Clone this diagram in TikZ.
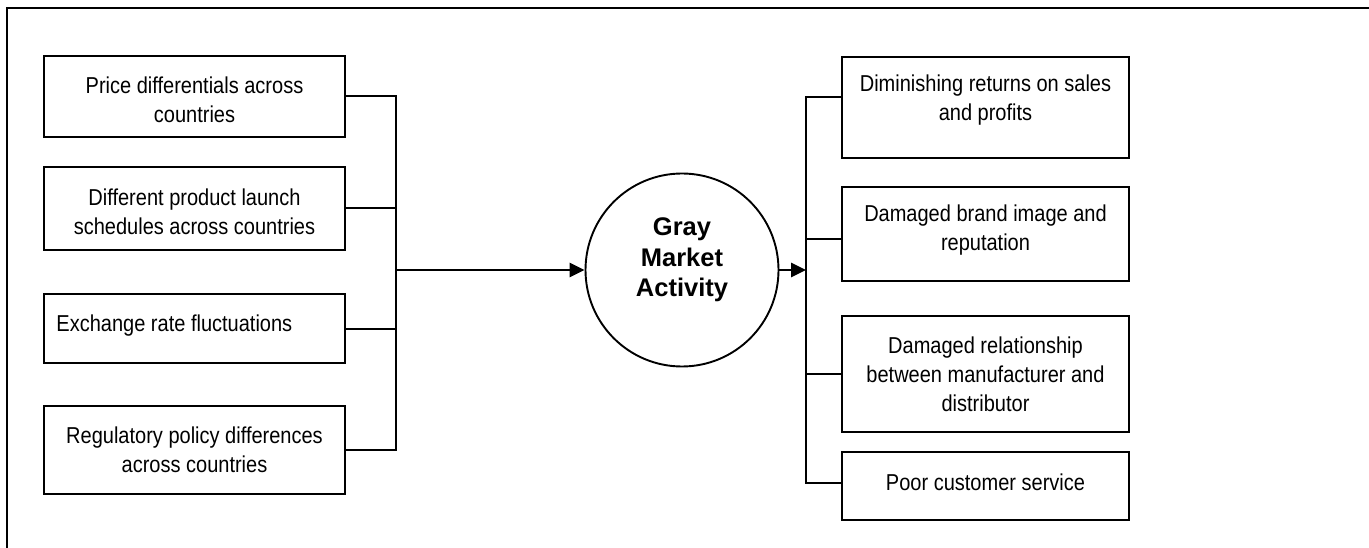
\documentclass[tikz,border=0pt]{standalone}
\usepackage{fontspec}
\setmainfont{Liberation Sans}
\newfontfamily\narrowfont{Liberation Sans}[FakeStretch=0.87]
\usetikzlibrary{arrows.meta}

\begin{document}
\begin{tikzpicture}
[x=1pt,y=-1pt,>={Triangle[length=15pt,width=14pt]},line width=2pt]
\tikzstyle{cause}=[draw,line width=2.1pt,minimum width=301pt,inner sep=0pt]
\tikzstyle{effect}=[cause,minimum width=287pt]
\tikzstyle{txt}=[font=\narrowfont\fontsize{23}{29}\selectfont,align=center,inner sep=0pt]
\tikzstyle{hub}=[circle,draw,line width=1.9pt,minimum size=193pt,inner sep=0pt]
\useasboundingbox (0,0) rectangle (1369,548);
% frame, only top and left edges show
\draw[line width=2.7pt] (7,548) -- (7,8) -- (1369,8);

% causes
\node[cause,minimum height=81pt,label={[txt,yshift=-3pt]center:{Price differentials across\\countries}}] (c1) at (194.5,96.5) {};
\node[cause,minimum height=83pt,label={[txt,yshift=-3pt]center:{Different product launch\\schedules across countries}}] (c2) at (194.5,208.5) {};
\node[cause,minimum height=69pt,label={[txt,anchor=west,xshift=12.5pt,yshift=3pt]west:{Exchange rate fluctuations}}] (c3) at (194.5,328.5) {};
\node[cause,minimum height=88pt,label={[txt]center:{Regulatory policy differences\\across countries}}] (c4) at (194.5,450) {};

% gray market
\node[hub,label={[font=\bfseries\fontsize{25.5}{30.5}\selectfont,align=center,inner sep=0pt,yshift=10pt]center:{Gray\\Market\\Activity}}] (gma) at (682,270) {};

% effects
\node[effect,minimum height=101pt,label={[txt,yshift=7.5pt]center:{Diminishing returns on sales\\and profits}}] (e1) at (985.5,107.5) {};
\node[effect,minimum height=94pt,label={[txt,yshift=4pt]center:{Damaged brand image and\\reputation}}] (e2) at (985.5,234) {};
\node[effect,minimum height=116pt,label={[txt]center:{Damaged relationship\\between manufacturer and\\distributor}}] (e3) at (985.5,374) {};
\node[effect,minimum height=68pt,label={[txt,yshift=4pt]center:{Poor customer service}}] (e4) at (985.5,486) {};

\coordinate (lbus) at (396,270);
\coordinate (rbus) at (806,270);

\draw (c1.east) -| (lbus) |- (c4.east);
\draw (c2.east) -- (c2.east -| lbus);
\draw (c3.east) -- (c3.east -| lbus);

\draw ([yshift=10.5pt]e1.west) -| (rbus) |- ([yshift=3pt]e4.west);
\draw ([yshift=-5pt]e2.west) -- ([yshift=-5pt]e2.west -| rbus);
\draw (e3.west) -- (e3.west -| rbus);

\path
(lbus) edge [->, line width=2.7pt] (gma)
(gma) edge [->, line width=2.7pt] (rbus)
;\end{tikzpicture}
\end{document}
